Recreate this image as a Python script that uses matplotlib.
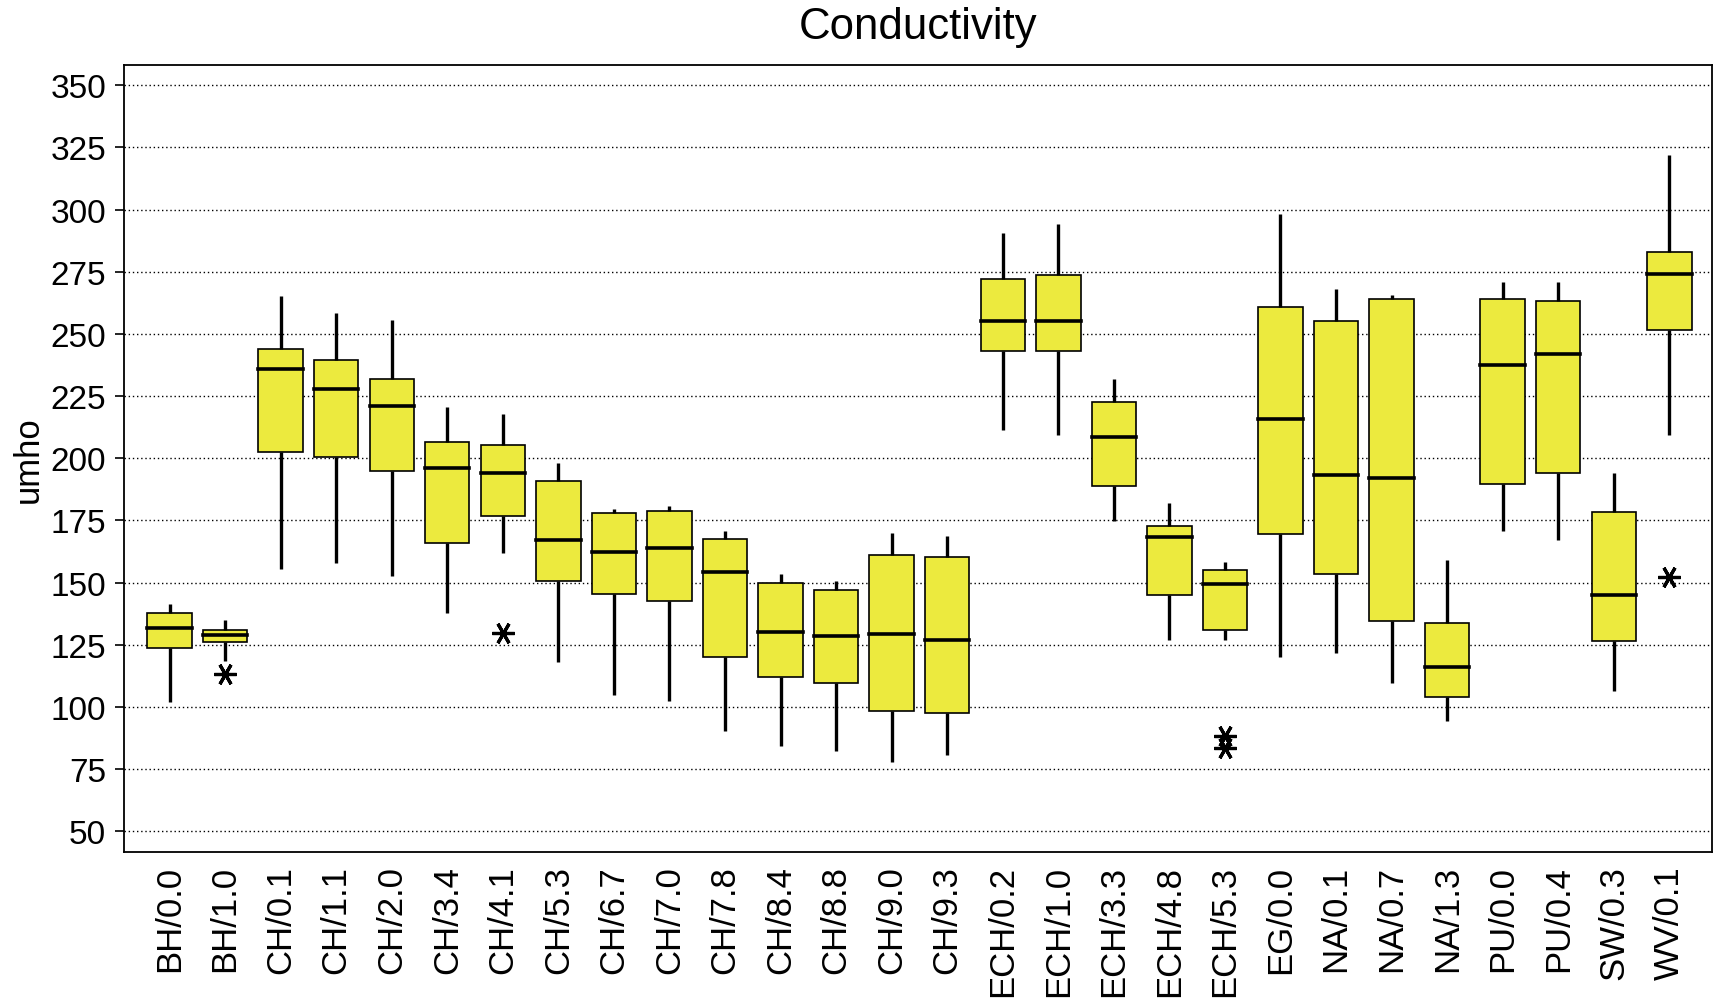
import matplotlib
matplotlib.use("Agg")
import matplotlib.pyplot as plt
from matplotlib import font_manager

# Sites / depth groups
sites = ["BH/0.0", "BH/1.0", "CH/0.1", "CH/1.1", "CH/2.0", "CH/3.4", "CH/4.1",
         "CH/5.3", "CH/6.7", "CH/7.0", "CH/7.8", "CH/8.4", "CH/8.8", "CH/9.0",
         "CH/9.3", "ECH/0.2", "ECH/1.0", "ECH/3.3", "ECH/4.8", "ECH/5.3",
         "EG/0.0", "NA/0.1", "NA/0.7", "NA/1.3", "PU/0.0", "PU/0.4", "SW/0.3",
         "WV/0.1"]

# Box statistics (umho)
whisker_low = [102.0, 118.3, 155.6, 157.9, 152.8, 137.9, 162.0, 117.9, 104.9,
               102.5, 90.5, 84.5, 82.3, 77.7, 80.6, 211.3, 209.2, 174.6, 126.8,
               126.8, 120.0, 121.6, 109.5, 94.3, 170.7, 167.3, 106.4, 209.3]
quartile_1 = [123.6, 126.1, 202.5, 200.7, 194.8, 166.1, 176.7, 150.6, 145.4,
              142.6, 120.3, 112.0, 109.6, 98.3, 97.5, 243.3, 243.3, 188.7,
              144.9, 130.8, 169.7, 153.6, 134.5, 103.9, 189.6, 193.9, 126.5,
              251.5]
medians = [131.8, 128.9, 235.8, 228.0, 221.1, 196.2, 193.9, 167.0, 162.3,
           164.0, 154.1, 130.1, 128.6, 129.4, 127.0, 255.3, 255.3, 208.6,
           168.3, 149.3, 215.9, 193.4, 191.9, 115.9, 237.5, 241.8, 144.9,
           274.2]
quartile_3 = [137.7, 130.9, 244.0, 239.5, 231.7, 206.6, 205.2, 190.9, 178.0,
              178.8, 167.6, 150.0, 147.0, 161.0, 160.2, 272.0, 273.5, 222.8,
              172.8, 155.1, 261.0, 255.1, 264.0, 133.7, 264.0, 263.2, 178.6,
              283.1]
whisker_high = [141.6, 135.0, 265.3, 258.4, 255.5, 220.7, 217.8, 198.1, 179.5,
                181.0, 170.9, 153.3, 150.8, 170.0, 168.7, 290.7, 294.3, 232.0,
                182.0, 158.4, 298.1, 268.0, 265.8, 159.2, 270.7, 270.7, 194.2,
                322.1]
outliers = {"BH/1.0": [113.3], "CH/4.1": [129.6], "ECH/5.3": [88.4, 83.7],
            "WV/0.1": [152.3]}

y_ticks = list(range(50, 351, 25))

available = {f.name for f in font_manager.fontManager.ttflist}
family = [f for f in ["Liberation Sans Narrow", "Liberation Sans", "DejaVu Sans"]
          if f in available]
plt.rcParams["font.family"] = family

fig = plt.figure(figsize=(17.15, 10.03), dpi=100)
ax = fig.add_axes([0.0723, 0.1498, 0.926, 0.7848])

stats = []
for i, name in enumerate(sites):
    stats.append({
        "label": name,
        "whislo": whisker_low[i],
        "q1": quartile_1[i],
        "med": medians[i],
        "q3": quartile_3[i],
        "whishi": whisker_high[i],
        "fliers": outliers.get(name, []),
    })

positions = list(range(1, len(sites) + 1))
ax.bxp(stats, positions=positions, widths=0.8, patch_artist=True,
       showcaps=False,
       boxprops=dict(facecolor="#ECEA3E", edgecolor="black", linewidth=1.2),
       medianprops=dict(color="black", linewidth=2.6, solid_capstyle="projecting"),
       whiskerprops=dict(color="black", linewidth=2.4, solid_capstyle="butt"),
       flierprops=dict(marker=(6, 2, 90), markersize=16, markeredgewidth=2.3,
                       markeredgecolor="black", markerfacecolor="black",
                       linestyle="none"),
       zorder=3)

ax.set_xlim(0.18, 28.77)
ax.set_ylim(41.8, 358.3)
ax.set_yticks(y_ticks)
ax.set_yticklabels([str(v) for v in y_ticks])
ax.set_xticks(positions)
ax.set_xticklabels(sites, rotation=90)

ax.yaxis.grid(True, linestyle=(0, (1, 2)), color="black", linewidth=1.0)
ax.set_axisbelow(True)

ax.tick_params(axis="y", length=6.5, width=1.2, pad=6.5, labelsize=24)
ax.tick_params(axis="x", length=0, pad=9.5, labelsize=25)
for sp in ax.spines.values():
    sp.set_linewidth(1.3)

ax.set_ylabel("umho", fontsize=25, va="center")
ax.yaxis.set_label_coords(-0.0605, 0.5)
ax.set_title("Conductivity", fontsize=31.5, pad=19)

fig.savefig("out.png", dpi=100)
